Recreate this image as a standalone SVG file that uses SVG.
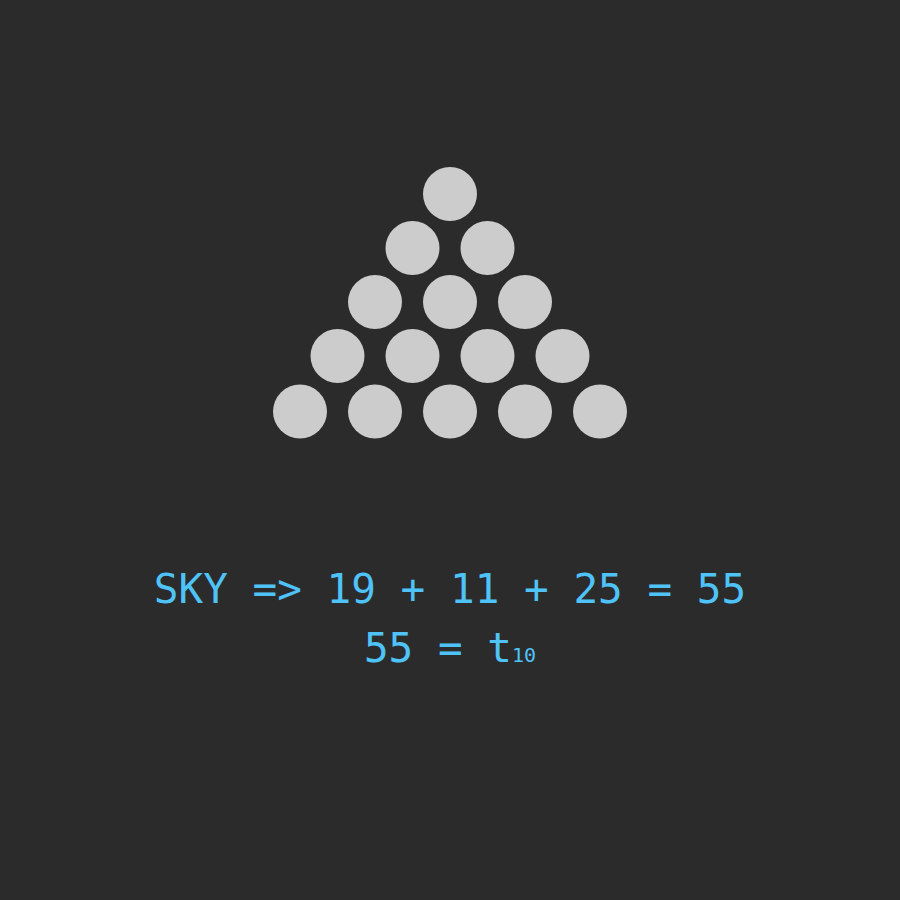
<svg xmlns="http://www.w3.org/2000/svg" width="900" height="900" viewBox="0 0 900 900">
<style>
.dot{fill:#cccccc}
.eq{font-family:"DejaVu Sans Mono","Liberation Mono",monospace;font-size:41px;fill:#4fc3f7;text-anchor:middle}
</style>
<rect width="900" height="900" fill="#2b2b2b"/>
<g id="triangle">
<circle class="dot" cx="450" cy="194" r="27"/>
<circle class="dot" cx="412.5" cy="248" r="27"/>
<circle class="dot" cx="487.5" cy="248" r="27"/>
<circle class="dot" cx="375" cy="302" r="27"/>
<circle class="dot" cx="450" cy="302" r="27"/>
<circle class="dot" cx="525" cy="302" r="27"/>
<circle class="dot" cx="337.5" cy="356" r="27"/>
<circle class="dot" cx="412.5" cy="356" r="27"/>
<circle class="dot" cx="487.5" cy="356" r="27"/>
<circle class="dot" cx="562.5" cy="356" r="27"/>
<circle class="dot" cx="300" cy="411.5" r="27"/>
<circle class="dot" cx="375" cy="411.5" r="27"/>
<circle class="dot" cx="450" cy="411.5" r="27"/>
<circle class="dot" cx="525" cy="411.5" r="27"/>
<circle class="dot" cx="600" cy="411.5" r="27"/>
</g>
<g id="equations">
<text class="eq" x="450" y="603">SKY =&gt; 19 + 11 + 25 = 55</text>
<text class="eq" x="450" y="662">55 = t<tspan font-size="20">10</tspan></text>
</g>
</svg>
